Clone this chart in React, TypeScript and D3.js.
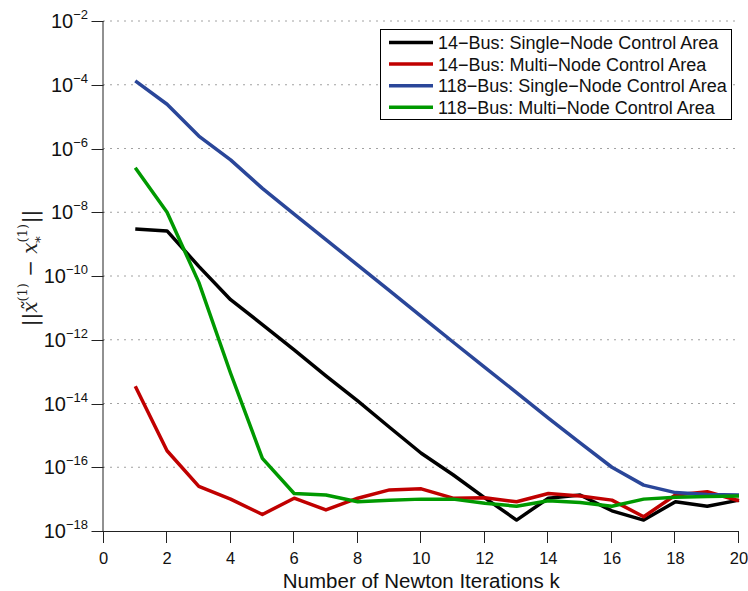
import React, { useEffect, useRef } from 'react';
import * as d3 from 'd3';

// iteration index k
const iterations = [1, 2, 3, 4, 5, 6, 7, 8, 9, 10, 11, 12, 13, 14, 15, 16, 17, 18, 19, 20];

// error norms
const bus14Single = [3.0e-9, 2.6e-9, 2.0e-10, 1.8e-11, 3.0e-12, 4.8e-13, 7.4e-14, 1.2e-14, 1.8e-15, 2.75e-16,
  5.8e-17, 1.1e-17, 2.2e-18, 1.07e-17, 1.35e-17, 4.3e-18, 2.2e-18, 8.3e-18, 6.0e-18, 9.3e-18];
const bus14Multi = [3.5e-14, 3.3e-16, 2.5e-17, 1.0e-17, 3.3e-18, 1.07e-17, 4.6e-18, 1.07e-17, 1.95e-17, 2.1e-17,
  1.07e-17, 1.1e-17, 8.3e-18, 1.5e-17, 1.26e-17, 9.3e-18, 2.8e-18, 1.35e-17, 1.7e-17, 8.9e-18];
const bus118Single = [1.32e-4, 2.45e-5, 2.45e-6, 4.4e-7, 5.6e-8, 8.7e-9, 1.38e-9, 2.2e-10, 3.5e-11, 5.4e-12,
  8.5e-13, 1.35e-13, 2.2e-14, 3.5e-15, 5.8e-16, 1.0e-16, 2.75e-17, 1.6e-17, 1.4e-17, 1.35e-17];
const bus118Multi = [2.5e-7, 1.0e-8, 6.3e-11, 8.9e-14, 1.9e-16, 1.5e-17, 1.35e-17, 8.3e-18, 9.3e-18, 1.0e-17,
  1.0e-17, 7.4e-18, 6.0e-18, 8.9e-18, 7.8e-18, 6.0e-18, 1.0e-17, 1.15e-17, 1.2e-17, 1.26e-17];

const seriesNames = [
  '14\u2212Bus: Single\u2212Node Control Area',
  '14\u2212Bus: Multi\u2212Node Control Area',
  '118\u2212Bus: Single\u2212Node Control Area',
  '118\u2212Bus: Multi\u2212Node Control Area',
];
const seriesColors = ['#000000', '#c00000', '#2a4699', '#009900'];

const xTicks = [0, 2, 4, 6, 8, 10, 12, 14, 16, 18, 20];
const yExponents = [-2, -4, -6, -8, -10, -12, -14, -16, -18];

const App = () => {
  const svgRef = useRef<SVGSVGElement>(null);

  useEffect(() => {
    const svg = d3.select(svgRef.current);
    svg.selectAll('*').remove();

    const width = 748;
    const height = 591;
    const font = 'Liberation Sans, Arial, Helvetica, sans-serif';

    const x = d3.scaleLinear().domain([0, 20]).range([103.5, 739]);
    const y = d3.scaleLog().domain([1e-18, 1e-2]).range([531, 21]);

    svg.attr('width', width).attr('height', height).style('font-family', font);
    svg.append('rect').attr('width', width).attr('height', height).attr('fill', 'white');

    // dotted horizontal grid
    svg.append('g')
      .selectAll('line')
      .data(yExponents.filter(e => e !== -18))
      .join('line')
      .attr('x1', x(0)).attr('x2', x(20))
      .attr('y1', e => y(Math.pow(10, e))).attr('y2', e => y(Math.pow(10, e)))
      .attr('stroke', '#444')
      .attr('stroke-width', 1)
      .attr('stroke-dasharray', '1,6');

    // axes
    const axisG = svg.append('g').attr('stroke', '#222').attr('stroke-width', 1);
    axisG.append('line')
      .attr('x1', x(0) - 0.5).attr('x2', x(0) - 0.5)
      .attr('y1', y(1e-2)).attr('y2', y(1e-18));
    axisG.append('line')
      .attr('x1', x(0)).attr('x2', x(20))
      .attr('y1', y(1e-18) + 0.5).attr('y2', y(1e-18) + 0.5);
    axisG.selectAll('.yt')
      .data(yExponents)
      .join('line')
      .attr('x1', x(0) - 12).attr('x2', x(0))
      .attr('y1', e => Math.round(y(Math.pow(10, e))) + 0.5)
      .attr('y2', e => Math.round(y(Math.pow(10, e))) + 0.5);
    axisG.selectAll('.xt')
      .data(xTicks)
      .join('line')
      .attr('x1', d => Math.round(x(d)) - 0.5).attr('x2', d => Math.round(x(d)) - 0.5)
      .attr('y1', y(1e-18)).attr('y2', y(1e-18) + 12);

    // x tick labels
    svg.append('g')
      .selectAll('text')
      .data(xTicks)
      .join('text')
      .attr('x', d => x(d))
      .attr('y', 564)
      .attr('text-anchor', 'middle')
      .attr('font-size', 16.5)
      .attr('fill', '#111')
      .text(d => d);

    // y tick labels with superscript exponents
    const yl = svg.append('g')
      .selectAll('text')
      .data(yExponents)
      .join('text')
      .attr('x', 88)
      .attr('y', e => y(Math.pow(10, e)) + 7)
      .attr('text-anchor', 'end')
      .attr('font-size', 20)
      .attr('fill', '#111');
    yl.append('tspan').text('10');
    yl.append('tspan')
      .attr('font-size', 13)
      .attr('dy', -9)
      .text(e => '\u2212' + Math.abs(e));

    // axis title
    svg.append('text')
      .attr('x', (x(0) + x(20)) / 2)
      .attr('y', 588)
      .attr('text-anchor', 'middle')
      .attr('font-size', 20.5)
      .attr('fill', '#111')
      .text('Number of Newton Iterations k');

    // y label: ||x~(1) - x*(1)||
    const yt = svg.append('text')
      .attr('transform', 'translate(37,268) rotate(-90)')
      .attr('text-anchor', 'middle')
      .attr('font-family', 'DejaVu Serif, Liberation Serif, serif')
      .attr('font-size', 20)
      .attr('fill', '#222');
    yt.append('tspan').text('||');
    yt.append('tspan').attr('font-style', 'italic').text('x\u0303');
    yt.append('tspan').attr('font-size', 13).attr('dy', -10).text('(1)');
    yt.append('tspan').attr('dy', 10).text(' \u2212 ');
    yt.append('tspan').attr('font-style', 'italic').text('x');
    yt.append('tspan').attr('font-size', 13).attr('dy', -10).text('(1)');
    yt.append('tspan').attr('font-size', 13).attr('dx', -20).attr('dy', 15).text('\u2217');
    yt.append('tspan').attr('dx', 12).attr('dy', -5).text('||');

    // series
    const allSeries = [bus14Single, bus14Multi, bus118Single, bus118Multi];
    const line = d3.line<number>()
      .x((_, i) => x(iterations[i]))
      .y(v => y(v));

    svg.append('g')
      .attr('fill', 'none')
      .attr('stroke-width', 3.5)
      .attr('stroke-linejoin', 'round')
      .selectAll('path')
      .data(allSeries)
      .join('path')
      .attr('stroke', (_, i) => seriesColors[i])
      .attr('d', d => line(d));

    // legend
    const lg = svg.append('g');
    lg.append('rect')
      .attr('x', 380.5).attr('y', 29.5)
      .attr('width', 351).attr('height', 90)
      .attr('fill', 'white')
      .attr('stroke', '#000')
      .attr('stroke-width', 1);
    const rows = lg.selectAll('g')
      .data(seriesNames)
      .join('g')
      .attr('transform', (_, i) => `translate(0,${42.5 + i * 21.6})`);
    rows.append('line')
      .attr('x1', 389).attr('x2', 433)
      .attr('stroke', (_, i) => seriesColors[i])
      .attr('stroke-width', 3.5);
    rows.append('text')
      .attr('x', 438)
      .attr('y', 6.5)
      .attr('font-size', 18)
      .attr('fill', '#111')
      .text(d => d);
  }, []);

  return <svg ref={svgRef} style={{ position: 'absolute', left: 0, top: 0 }} />;
};

export default App;
